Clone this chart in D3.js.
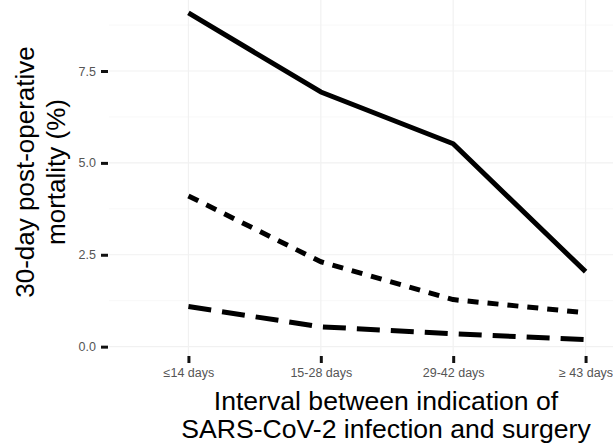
<!DOCTYPE html>
<html>
<head>
<meta charset="utf-8">
<script src="https://cdn.jsdelivr.net/npm/d3@7"></script>
<style>
  body { margin: 0; background: #fff; }
  text { font-family: "Liberation Sans", Arial, Helvetica, sans-serif; }
</style>
</head>
<body>
<script>
// categories and series
var intervals = ["\u226414 days", "15-28 days", "29-42 days", "\u2265 43 days"];
var solid_vals  = [9.08, 6.93, 5.52, 2.04];
var dotted_vals = [4.10, 2.31, 1.28, 0.92];
var dashed_vals = [1.09, 0.54, 0.35, 0.19];
var y_ticks = [0, 2.5, 5, 7.5];
var y_minor = [1.25, 3.75, 6.25, 8.75];

var width = 613, height = 446;
var panel = {left: 109, right: 665, top: -3.4, bottom: 356};

var svg = d3.select("body").append("svg")
    .attr("width", width)
    .attr("height", height);

// scales (discrete x with ggplot-style 0.6 expansion, y with 5% expansion)
var xscale = d3.scalePoint().domain(intervals)
    .range([panel.left, panel.right]).padding(0.6);
var ymin = d3.min(dashed_vals), ymax = d3.max(solid_vals);
var pad = 0.05 * (ymax - ymin);
var yscale = d3.scaleLinear().domain([ymin - pad, ymax + pad])
    .range([panel.bottom, panel.top]);

// grid lines
var grid = svg.append("g").attr("class", "grid");
grid.selectAll("line.minor").data(y_minor).enter().append("line")
    .attr("x1", panel.left).attr("x2", panel.right)
    .attr("y1", d => yscale(d)).attr("y2", d => yscale(d))
    .attr("stroke", "#f8f8f8").attr("stroke-width", 1);
grid.selectAll("line.majory").data(y_ticks).enter().append("line")
    .attr("x1", panel.left).attr("x2", panel.right)
    .attr("y1", d => yscale(d)).attr("y2", d => yscale(d))
    .attr("stroke", "#f1f1f1").attr("stroke-width", 1.2);
grid.selectAll("line.majorx").data(intervals).enter().append("line")
    .attr("x1", d => xscale(d)).attr("x2", d => xscale(d))
    .attr("y1", panel.top).attr("y2", panel.bottom)
    .attr("stroke", "#f1f1f1").attr("stroke-width", 1.2);

// axes
var xaxis = svg.append("g").attr("class", "x axis")
    .attr("transform", "translate(0," + panel.bottom + ")")
    .call(d3.axisBottom(xscale).tickSize(7).tickPadding(5));
var yaxis = svg.append("g").attr("class", "y axis")
    .attr("transform", "translate(" + (panel.left - 1) + ",0)")
    .call(d3.axisLeft(yscale).tickValues(y_ticks).tickFormat(d3.format(".1f"))
          .tickSize(7).tickPadding(5));

[xaxis, yaxis].forEach(function(a) {
    a.select(".domain").remove();
    a.selectAll(".tick line").attr("stroke", "#111").attr("stroke-width", 3);
    a.selectAll(".tick text").attr("fill", "#555").style("font-size", "12.5px");
});

// series lines
var line = d3.line()
    .x((d, i) => xscale(intervals[i]))
    .y(d => yscale(d));

var series = [
    {vals: solid_vals,  dash: null},
    {vals: dotted_vals, dash: "11,9"},
    {vals: dashed_vals, dash: "23,11"}
];
series.forEach(function(s) {
    svg.append("path")
        .datum(s.vals)
        .attr("d", line)
        .attr("fill", "none")
        .attr("stroke", "#000")
        .attr("stroke-width", 5)
        .attr("stroke-linejoin", "round")
        .attr("stroke-dasharray", s.dash);
});

// axis titles
var xt = svg.append("text")
    .attr("text-anchor", "middle")
    .style("font-size", "26.6px")
    .attr("fill", "#000");
xt.append("tspan").attr("x", 386).attr("y", 410).text("Interval between indication of");
xt.append("tspan").attr("x", 386).attr("y", 438).text("SARS-CoV-2 infection and surgery");

var yt = svg.append("text")
    .attr("transform", "translate(0,172) rotate(-90)")
    .attr("text-anchor", "middle")
    .style("font-size", "26px")
    .attr("fill", "#000");
yt.append("tspan").attr("x", 0).attr("y", 34).text("30-day post-operative");
yt.append("tspan").attr("x", 0).attr("y", 65).text("mortality (%)");
</script>
</body>
</html>
